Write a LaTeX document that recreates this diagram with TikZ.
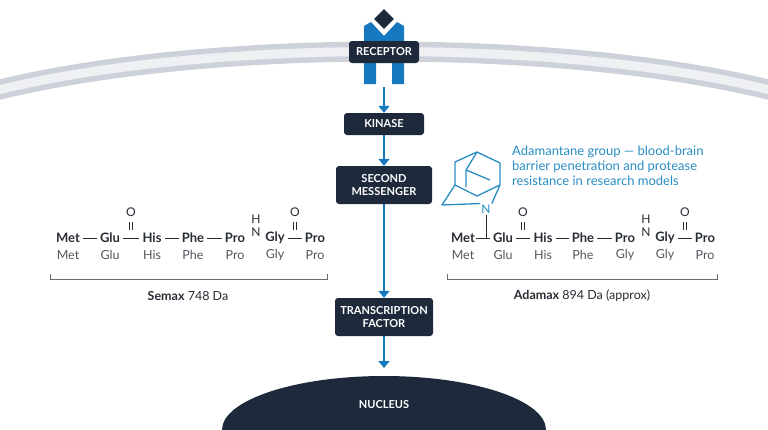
\documentclass[tikz,border=0pt]{standalone}
\usepackage{fontspec}
\setmainfont{Lato}
\usetikzlibrary{arrows.meta,shapes.geometric}
\definecolor{navy}{RGB}{30,42,60}
\definecolor{cblue}{RGB}{22,120,190}
\definecolor{tblue}{RGB}{40,140,195}
\definecolor{mem}{RGB}{205,210,218}
\definecolor{memin}{RGB}{238,240,244}
\definecolor{ink}{RGB}{40,44,52}
\tikzset{
  stepbox/.style={draw=none, fill=navy, rounded corners=3pt, text=white, font=\bfseries\fontsize{11}{12.5}\selectfont, align=center, minimum height=22pt},
  flow/.style={cblue, line width=2.6pt, -{Triangle[length=7pt,width=11pt]}},
  res/.style={font=\bfseries\fontsize{13}{15}\selectfont, text=ink, inner sep=1pt},
  sub/.style={font=\fontsize{12.5}{14}\selectfont, text=ink!80, inner sep=1pt},
  atom/.style={font=\fontsize{12}{14}\selectfont, text=ink, inner sep=1pt},
  bond/.style={ink, line width=0.9pt},
  cage/.style={tblue, line width=1.3pt, line join=round}
}
\begin{document}
\begin{tikzpicture}[x=1pt, y=-1pt]
\useasboundingbox (0,0) rectangle (768,429);
% membrane
\draw[mem, line width=20pt] (-10,92) .. controls (200,38) and (568,38) .. (778,92);
\draw[memin, line width=9pt] (-10,92) .. controls (200,38) and (568,38) .. (778,92);
% receptor
\fill[cblue] (364,26) -- (371,22) -- (384,36) -- (397,22) -- (404,26) -- (404,84) -- (392,84) -- (392,60) -- (376,60) -- (376,84) -- (364,84) -- cycle;
\node[diamond, fill=navy, minimum size=20pt, inner sep=0pt] (lig) at (384,19) {};
\node[stepbox, minimum width=70pt] (rec) at (384,52) {RECEPTOR};
\node[stepbox, minimum width=80pt] (kin) at (384,124) {KINASE};
\node[stepbox, minimum width=96pt, minimum height=38pt] (sec) at (384,185) {SECOND\\MESSENGER};
\node[stepbox, minimum width=98pt, minimum height=38pt] (tf) at (384,317) {TRANSCRIPTION\\FACTOR};
\fill[navy] (222,430) arc[start angle=180, end angle=360, x radius=162, y radius=54];
\node[text=white, font=\bfseries\fontsize{11}{12.5}\selectfont] (nuc) at (384,405) {NUCLEUS};
\coordinate (rbot) at (384,87);
\coordinate (ntop) at (384,368);
\draw[flow] (rbot) -- (kin.north);
\draw[flow] (kin.south) -- (sec.north);
\draw[flow] (sec.south) -- (tf.north);
\draw[flow] (tf.south) -- (ntop);
% Semax
\foreach \x/\t/\s [count=\i] in {68/Met/Met,110/Glu/Glu,152/His/His,193/Phe/Phe,235/Pro/Pro,275/Gly/Gly,315/Pro/Pro} {
  \node[res] (s\i) at (\x,238) {\t};
  \node[sub] (t\i) at (\x,255) {\s};
}
\foreach \a/\b in {1/2,2/3,3/4,4/5,6/7} \draw[bond] ([xshift=2pt]s\a.east) -- ([xshift=-2pt]s\b.west);
\node[atom] (sn) at (256,232) {N};
\node[atom] (sh) at (256,219) {H};
\foreach \x [count=\i] in {131,295} {
  \node[atom] (so\i) at (\x,212) {O};
  \draw[bond] (\x-1.5,222) -- (\x-1.5,230) (\x+1.5,222) -- (\x+1.5,230);
}
\draw[ink!70, line width=0.6pt] (50,274) -- (50,279) -- (327,279) -- (327,274);
\node[font=\fontsize{12.5}{14}\selectfont, text=ink] (semax) at (188,296) {\textbf{Semax} 748 Da};
% Adamax
\foreach \x/\t/\s [count=\i] in {463/Met/Met,503/Glu/Glu,543/His/His,583/Phe/Phe,625/Pro/Gly,665/Gly/Gly,705/Pro/Pro} {
  \node[res] (a\i) at (\x,238) {\t};
  \node[sub] (b\i) at (\x,255) {\s};
}
\foreach \a/\b in {2/3,3/4,4/5,6/7} \draw[bond] ([xshift=2pt]a\a.east) -- ([xshift=-2pt]a\b.west);
\node[atom] (an) at (646,232) {N};
\node[atom] (ah) at (646,219) {H};
\foreach \x [count=\i] in {523,685} {
  \node[atom] (ao\i) at (\x,212) {O};
  \draw[bond] (\x-1.5,222) -- (\x-1.5,230) (\x+1.5,222) -- (\x+1.5,230);
}
\node[tblue, font=\fontsize{12}{14}\selectfont, inner sep=1pt] (nn) at (486,209) {N};
\draw[bond] (nn.south) -- (486,239) (a1.east) -- ([xshift=-2pt]a2.west);
% adamantane cage
\draw[cage] (442,205) -- (455,185) -- (455,162) -- (477,152) -- (500,163) -- (500,185) -- (nn.north east);
\draw[cage] (455,185) -- (477,196) -- (500,185);
\draw[cage] (477,152) -- (466,170) -- (466,187);
\draw[cage] (466,170) -- (490,180) (nn.north west) -- (442,205);
\node[tblue, font=\fontsize{13}{15}\selectfont, align=left, anchor=north west, inner sep=0pt] (note) at (512,146) {Adamantane group — blood-brain\\barrier penetration and protease\\resistance in research models};
\draw[ink!70, line width=0.6pt] (447,274) -- (447,279) -- (717,279) -- (717,274);
\node[font=\fontsize{12.5}{14}\selectfont, text=ink] (adamax) at (582,296) {\textbf{Adamax} 894 Da (approx)};
\end{tikzpicture}
\end{document}
